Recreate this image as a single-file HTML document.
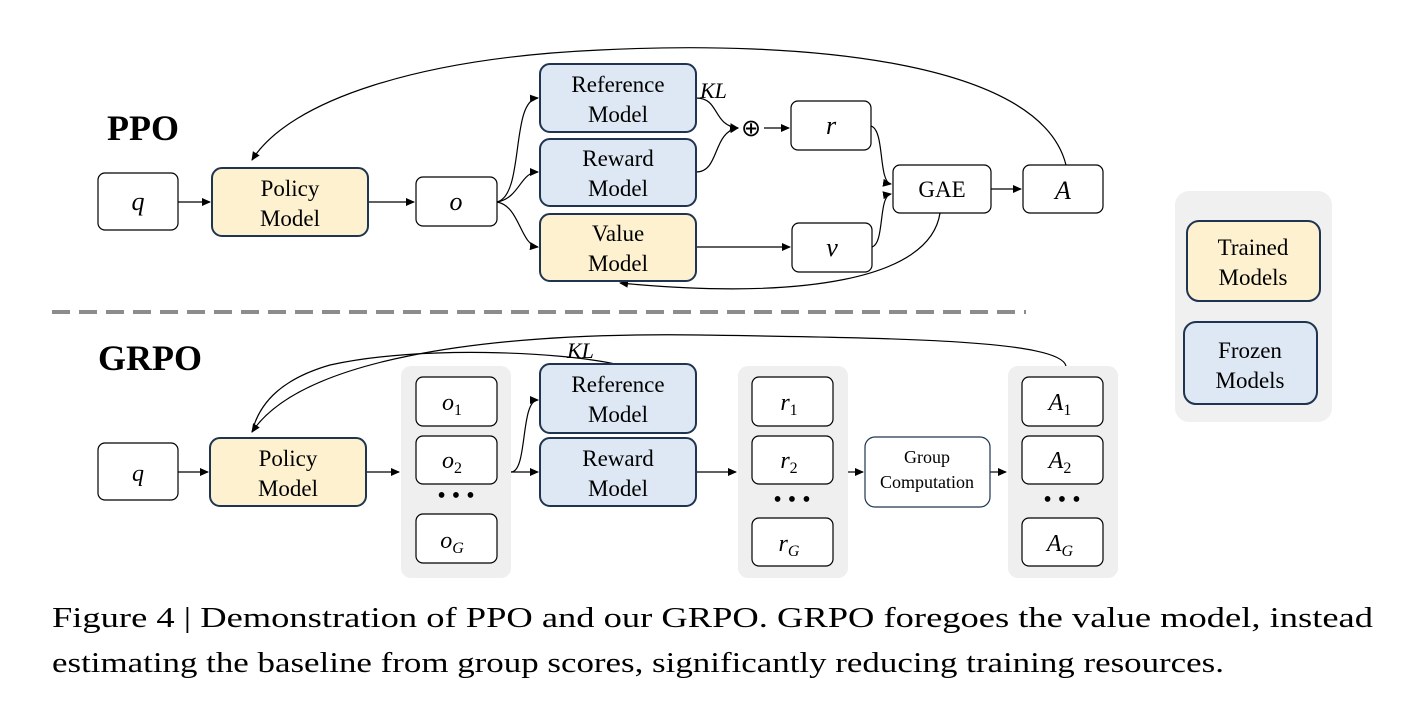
<!DOCTYPE html>
<html><head><meta charset="utf-8"><style>
html,body{margin:0;padding:0;background:#fff;}
svg{display:block;}
text{font-family:"Liberation Serif",serif;fill:#000;}
.m{font-style:italic;}
</style></head><body>
<svg width="1407" height="721" viewBox="0 0 1407 721" xmlns="http://www.w3.org/2000/svg">
<defs>
<marker id="ar" markerWidth="10" markerHeight="10" refX="8" refY="5" orient="auto" markerUnits="userSpaceOnUse">
<path d="M0,1 L9,5 L0,9 z" fill="#000"/></marker>
</defs>
<g stroke="#000" stroke-width="1.2" fill="none">
<!-- PPO -->
<path d="M1066,165 C1040,60 800,40 600,50 C420,58 290,100 252,160" marker-end="url(#ar)"/>
<path d="M940,213 C930,280 800,300 620,283" marker-end="url(#ar)"/>
<path d="M178,202 H210" marker-end="url(#ar)"/>
<path d="M368,202 H414" marker-end="url(#ar)"/>
<path d="M497,202 C525,195 510,100 538,98" marker-end="url(#ar)"/>
<path d="M497,202 C520,198 520,172 538,172" marker-end="url(#ar)"/>
<path d="M497,202 C520,206 520,245 538,247" marker-end="url(#ar)"/>
<path d="M696,98 C720,98 712,125 738,128" marker-end="url(#ar)"/>
<path d="M696,172 C720,172 712,132 738,128" marker-end="url(#ar)"/>
<path d="M764,128 H789" marker-end="url(#ar)"/>
<path d="M696,247 H790" marker-end="url(#ar)"/>
<path d="M871,126 C885,130 878,182 891,184" marker-end="url(#ar)"/>
<path d="M872,247 C885,243 878,196 891,194" marker-end="url(#ar)"/>
<path d="M991,189 H1021" marker-end="url(#ar)"/>
<!-- GRPO -->
<path d="M1066,366 C1060,340 900,338 700,335 C480,332 300,360 252,432" marker-end="url(#ar)"/>
<path d="M615,364 C560,352 420,345 330,365 C285,378 260,400 252,432"/>
<path d="M178,472 H208" marker-end="url(#ar)"/>
<path d="M366,472 H399" marker-end="url(#ar)"/>
<path d="M511,472 C528,472 520,400 538,400" marker-end="url(#ar)"/>
<path d="M511,472 H538" marker-end="url(#ar)"/>
<path d="M696,472 H736" marker-end="url(#ar)"/>
<path d="M848,472 H863" marker-end="url(#ar)"/>
<path d="M990,472 H1006" marker-end="url(#ar)"/>
</g>
<!-- dashed separator -->
<line x1="52" y1="312" x2="1026" y2="312" stroke="#8c8c8c" stroke-width="4" stroke-dasharray="18,9"/>
<!-- PPO boxes -->
<text x="107" y="140" font-size="36" font-weight="bold">PPO</text>
<g stroke="#000" stroke-width="1.2" fill="#fff">
<rect x="98" y="173" width="80" height="57" rx="7"/>
<rect x="416" y="177" width="81" height="49" rx="7"/>
<rect x="791" y="101" width="80" height="49" rx="7"/>
<rect x="792" y="223" width="80" height="49" rx="7"/>
<rect x="893" y="165" width="98" height="48" rx="7"/>
<rect x="1023" y="165" width="80" height="48" rx="7"/>
</g>
<g stroke="#1f3450" stroke-width="2">
<rect x="212" y="168" width="156" height="68" rx="10" fill="#fdf1cf"/>
<rect x="540" y="64" width="156" height="68" rx="10" fill="#dde8f4"/>
<rect x="540" y="139" width="156" height="67" rx="10" fill="#dde8f4"/>
<rect x="540" y="214" width="156" height="67" rx="10" fill="#fdf1cf"/>
</g>
<g font-size="23" text-anchor="middle">
<text x="290" y="196">Policy</text><text x="290" y="226">Model</text>
<text x="618" y="92">Reference</text><text x="618" y="122">Model</text>
<text x="618" y="166">Reward</text><text x="618" y="196">Model</text>
<text x="618" y="241">Value</text><text x="618" y="271">Model</text>
<text x="942" y="197">GAE</text>
</g>
<g font-size="26" text-anchor="middle" class="m">
<text x="138" y="210">q</text>
<text x="456" y="210">o</text>
<text x="831" y="134">r</text>
<text x="832" y="256">v</text>
<text x="1063" y="199">A</text>
</g>
<text x="700" y="98" font-size="22" class="m">KL</text>
<text x="751" y="136" font-size="24" text-anchor="middle">⊕</text>
<!-- legend -->
<rect x="1175" y="191" width="157" height="231" rx="14" fill="#f0f0f0"/>
<g stroke="#1f3450" stroke-width="2">
<rect x="1187" y="221" width="133" height="80" rx="12" fill="#fdf1cf"/>
<rect x="1184" y="322" width="133" height="82" rx="12" fill="#dde8f4"/>
</g>
<g font-size="23" text-anchor="middle">
<text x="1253" y="255">Trained</text><text x="1253" y="285">Models</text>
<text x="1250" y="358">Frozen</text><text x="1250" y="388">Models</text>
</g>
<!-- GRPO -->
<text x="98" y="370" font-size="36" font-weight="bold">GRPO</text>
<g fill="#efefef">
<rect x="401" y="366" width="110" height="212" rx="10"/>
<rect x="738" y="366" width="110" height="212" rx="10"/>
<rect x="1008" y="366" width="110" height="212" rx="10"/>
</g>
<g stroke="#000" stroke-width="1.2" fill="#fff">
<rect x="98" y="443" width="80" height="57" rx="7"/>
<rect x="416" y="377" width="81" height="49" rx="7"/>
<rect x="416" y="436" width="81" height="48" rx="7"/>
<rect x="416" y="514" width="81" height="49" rx="7"/>
<rect x="752" y="377" width="81" height="49" rx="7"/>
<rect x="752" y="436" width="81" height="48" rx="7"/>
<rect x="752" y="518" width="81" height="48" rx="7"/>
<rect x="1022" y="377" width="81" height="49" rx="7"/>
<rect x="1022" y="436" width="81" height="48" rx="7"/>
<rect x="1022" y="518" width="81" height="48" rx="7"/>
</g>
<rect x="865" y="437" width="125" height="70" rx="10" fill="#fff" stroke="#1f3450" stroke-width="1.2"/>
<g stroke="#1f3450" stroke-width="2">
<rect x="210" y="438" width="156" height="68" rx="10" fill="#fdf1cf"/>
<rect x="540" y="364" width="156" height="69" rx="10" fill="#dde8f4"/>
<rect x="540" y="438" width="156" height="68" rx="10" fill="#dde8f4"/>
</g>
<g font-size="23" text-anchor="middle">
<text x="288" y="466">Policy</text><text x="288" y="496">Model</text>
<text x="618" y="392">Reference</text><text x="618" y="422">Model</text>
<text x="618" y="466">Reward</text><text x="618" y="496">Model</text>
</g>
<g font-size="18" text-anchor="middle">
<text x="927" y="463">Group</text><text x="927" y="488">Computation</text>
</g>
<text x="567" y="358" font-size="22" class="m">KL</text>
<g font-size="24" class="m" text-anchor="middle">
<text x="138" y="481">q</text>
<text x="452" y="410">o<tspan font-size="16" dy="5" font-style="normal">1</tspan></text>
<text x="452" y="468">o<tspan font-size="16" dy="5" font-style="normal">2</tspan></text>
<text x="452" y="548">o<tspan font-size="16" dy="5">G</tspan></text>
<text x="789" y="410">r<tspan font-size="16" dy="5" font-style="normal">1</tspan></text>
<text x="789" y="468">r<tspan font-size="16" dy="5" font-style="normal">2</tspan></text>
<text x="789" y="551">r<tspan font-size="16" dy="5">G</tspan></text>
<text x="1060" y="410">A<tspan font-size="16" dy="5" font-style="normal">1</tspan></text>
<text x="1060" y="468">A<tspan font-size="16" dy="5" font-style="normal">2</tspan></text>
<text x="1060" y="551">A<tspan font-size="16" dy="5">G</tspan></text>
</g>
<g font-size="24" text-anchor="middle">
<text x="456" y="503">• • •</text>
<text x="792" y="507">• • •</text>
<text x="1062" y="507">• • •</text>
</g>
<!-- caption -->
<text x="52" y="627" font-size="28" textLength="1321" lengthAdjust="spacingAndGlyphs">Figure 4 | Demonstration of PPO and our GRPO. GRPO foregoes the value model, instead</text>
<text x="52" y="672" font-size="28" textLength="1172" lengthAdjust="spacingAndGlyphs">estimating the baseline from group scores, significantly reducing training resources.</text>
</svg>
</body></html>
